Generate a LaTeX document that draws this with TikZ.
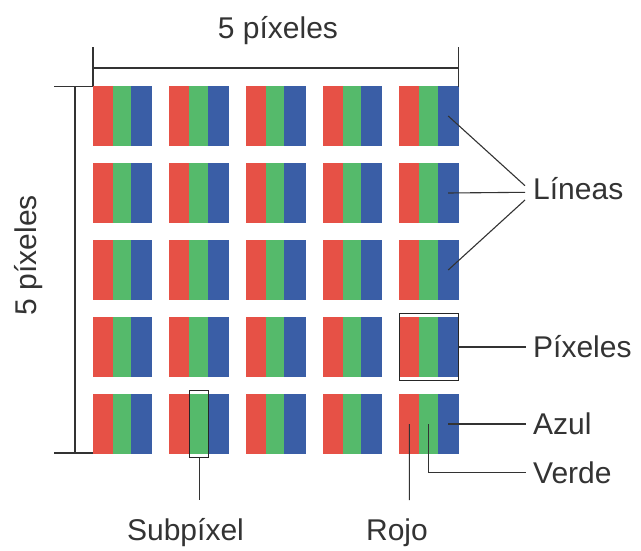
\documentclass[tikz,border=0pt]{standalone}
\usepackage{fontspec}
\setmainfont{Liberation Sans}
\definecolor{subred}{HTML}{E65146}
\definecolor{subgreen}{HTML}{55BA6B}
\definecolor{subblue}{HTML}{3A5EA6}
\definecolor{ink}{HTML}{333333}
\tikzset{
  sub/.style={draw=none, inner sep=0pt, outer sep=0pt, minimum height=60pt},
  redsub/.style={sub, fill=subred, minimum width=20pt},
  greensub/.style={sub, fill=subgreen, minimum width=18.4pt},
  bluesub/.style={sub, fill=subblue, minimum width=21.2pt},
  lbl/.style={inner sep=0pt, text=ink, font=\fontsize{30}{34}\selectfont},
  ln/.style={draw=ink, line width=1.1pt},
  frame/.style={draw=black!85, line width=1.2pt}
}
\begin{document}
\begin{tikzpicture}[x=1pt,y=-1pt]
\useasboundingbox (0,0) rectangle (641,551);
\fill[white] (0,0) rectangle (641,551);
% subpixel grid
\foreach \i in {1,...,5}{
  \foreach \j in {1,...,5}{
    \pgfmathsetmacro{\xo}{92.7+76.65*(\i-1)}
    \pgfmathsetmacro{\yo}{86+77*(\j-1)}
    \node[redsub]   (r\i\j) at (\xo+10,\yo+30) {};
    \node[greensub] (g\i\j) at (\xo+29.2,\yo+30) {};
    \node[bluesub]  (b\i\j) at (\xo+48.9,\yo+30) {};
  }
}
% dimension lines
\coordinate (tl) at (93,47.3);
\coordinate (tr) at (458.7,47.3);
\draw[ln] (tl) -- (93,86.3);
\draw[ln] (tr) -- (458.7,86.7);
\draw[ln] (93,68) -- (458.7,68);
\draw[ln] (54,86.3) -- (93,86.3);
\draw[ln] (54,453) -- (93,453);
\draw[ln] (75,86.3) -- (75,453);
\node[lbl, anchor=base] (top) at (278,38.3) {5 píxeles};
\node[lbl, anchor=base, rotate=90] (left) at (37,255) {5 píxeles};
% Lineas
\coordinate (l1) at (525,185.7);
\coordinate (l2) at (525,192.3);
\coordinate (l3) at (525,200);
\draw[ln] (b51.center) -- (l1);
\draw[ln] (b52.center) -- (l2);
\draw[ln] (b53.center) -- (l3);
\node[lbl, anchor=base west] (lineas) at (533,199.8) {Líneas};
% Pixeles box
\draw[frame] ([yshift=3.5pt]r54.north west) rectangle ([yshift=-3.5pt]b54.south east);
\coordinate (pbx) at ([yshift=0pt]b54.east);
\coordinate (pe) at (525.7,347);
\draw[ln] (pbx) -- (pe);
\node[lbl, anchor=base west] (pix) at (533,357.5) {Píxeles};
% Azul
\coordinate (ae) at (525.7,424);
\draw[ln] (b55.center) -- (ae);
\node[lbl, anchor=base west] (azul) at (533,434) {Azul};
% Verde
\coordinate (ve) at (525.7,472.7);
\draw[ln] (g55.center) |- (ve);
\node[lbl, anchor=base west] (verde) at (533,483.3) {Verde};
% Rojo
\coordinate (re) at (409.3,500);
\draw[ln] (r55.center) -- (re);
\node[lbl, anchor=base] (rojo) at (397,540) {Rojo};
% Subpixel
\draw[frame] ([yshift=3.5pt,xshift=0.5pt]g25.north west) rectangle ([yshift=-3.5pt,xshift=1pt]g25.south east) coordinate (sbr);
\coordinate (sb) at ([yshift=-3.5pt,xshift=0.7pt]g25.south);
\coordinate (se) at (sb |- 0,500);
\draw[ln] (sb) -- (se);
\node[lbl, anchor=base] (subpix) at (185.5,540) {Subpíxel};
\end{tikzpicture}
\end{document}
